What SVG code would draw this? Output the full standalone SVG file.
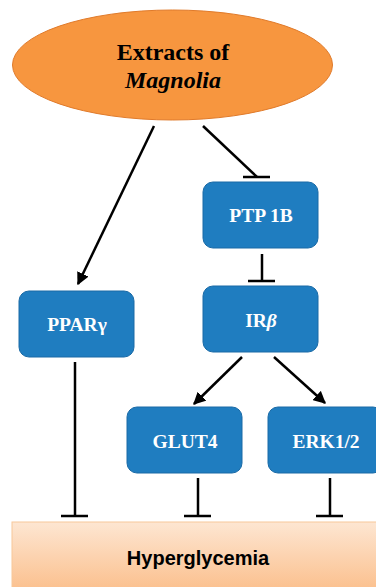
<svg xmlns="http://www.w3.org/2000/svg" width="376" height="587" viewBox="0 0 376 587">
<defs>
<style>
.box{fill:#1f7dc0;stroke:#1a6aa6;stroke-width:1}
.bt{font-family:"Liberation Serif",serif;font-weight:bold;font-size:19.5px;fill:#ffffff;text-anchor:middle}
.et{font-family:"Liberation Serif",serif;font-weight:bold;font-size:24px;fill:#000;text-anchor:middle}
.ln{stroke:#000;stroke-width:2.5;fill:none}
</style>
<linearGradient id="hg" x1="0" y1="0" x2="0" y2="1">
<stop offset="0" stop-color="#fde6d2"/>
<stop offset="1" stop-color="#fbbf8c"/>
</linearGradient>
<marker id="ah" viewBox="0 0 10 10" refX="9" refY="5" markerWidth="5" markerHeight="5" markerUnits="strokeWidth" orient="auto">
<path d="M0,0 L10,5 L0,10 z" fill="#000"/>
</marker>
</defs>
<rect width="376" height="587" fill="#fff"/>
<g id="connectors">
<line class="ln" x1="154" y1="126" x2="78" y2="284" marker-end="url(#ah)"/>
<line class="ln" x1="203" y1="126" x2="257" y2="177"/>
<line class="ln" x1="243" y1="177" x2="270" y2="177"/>
<line class="ln" x1="262" y1="254" x2="262" y2="281"/>
<line class="ln" x1="248" y1="281" x2="275" y2="281"/>
<line class="ln" x1="242" y1="357" x2="194" y2="404" marker-end="url(#ah)"/>
<line class="ln" x1="274" y1="357" x2="325" y2="403" marker-end="url(#ah)"/>
<line class="ln" x1="75" y1="362" x2="75" y2="516"/>
<line class="ln" x1="61" y1="516" x2="88" y2="516"/>
<line class="ln" x1="198" y1="478" x2="198" y2="516"/>
<line class="ln" x1="184" y1="516" x2="211" y2="516"/>
<line class="ln" x1="330" y1="478" x2="330" y2="516"/>
<line class="ln" x1="316" y1="516" x2="343" y2="516"/>
</g>
<g id="extracts">
<ellipse cx="172.5" cy="65" rx="160" ry="55" fill="#f7963f" stroke="#e07a2a" stroke-width="1"/>
<text class="et" x="173" y="60">Extracts of</text>
<text class="et" x="173" y="88" font-style="italic">Magnolia</text>
</g>
<g id="ptp1b">
<rect class="box" x="203" y="182" width="115" height="66" rx="10"/>
<text class="bt" x="261" y="222">PTP 1B</text>
</g>
<g id="irb">
<rect class="box" x="203" y="286" width="115" height="66" rx="10"/>
<text class="bt" x="261" y="327">IR<tspan font-style="italic">β</tspan></text>
</g>
<g id="pparg">
<rect class="box" x="19" y="291" width="115" height="66" rx="10"/>
<text class="bt" x="77" y="331">PPARγ</text>
</g>
<g id="glut4">
<rect class="box" x="127" y="407" width="115" height="66" rx="10"/>
<text class="bt" x="185" y="448">GLUT4</text>
</g>
<g id="erk">
<rect class="box" x="268" y="407" width="115" height="66" rx="10"/>
<text class="bt" x="326" y="448">ERK1/2</text>
</g>
<g id="hyperglycemia">
<rect x="12" y="522" width="370" height="70" fill="url(#hg)" stroke="#f8c79a" stroke-width="1"/>
<text x="198" y="565" font-family="'Liberation Sans',sans-serif" font-weight="bold" font-size="20" text-anchor="middle" fill="#000">Hyperglycemia</text>
</g>
</svg>
